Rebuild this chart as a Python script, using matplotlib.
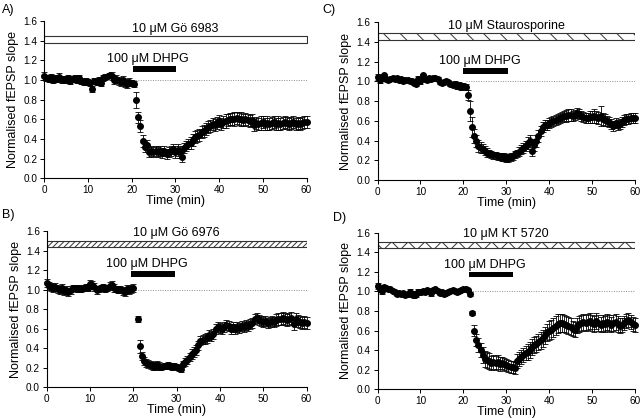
import matplotlib
matplotlib.use("Agg")
import matplotlib.pyplot as plt
import numpy as np

plt.rcParams.update({
    "font.family": ["Liberation Sans", "DejaVu Sans"],
    "font.size": 8,
    "axes.linewidth": 0.8,
    "xtick.labelsize": 7.2,
    "ytick.labelsize": 7.2,
    "xtick.major.size": 3,
    "ytick.major.size": 3,
    "xtick.major.width": 0.7,
    "ytick.major.width": 0.7,
    "xtick.major.pad": 2,
    "ytick.major.pad": 2,
    "hatch.linewidth": 0.7,
})

# -----------------------------
# Data (one sample every 30 s)
# -----------------------------
time = np.arange(0, 60.5, 0.5)
nan = np.nan

slope_A = [
    1.04, 1.02, 1.01, 1.03, 1.00, 1.02, 1.01, 1.03, 1.00, 1.01,
    1.00, 1.02, 0.99, 1.01, 1.02, 1.00, 1.02, 0.99, 0.98, 0.99,
    0.98, 0.97, 0.91, 0.99, 0.98, 1.00, 0.97, 1.02, 1.03, 1.04,
    1.05, 1.04, 1.00, 1.01, 0.99, 0.98, 1.00, 0.97, 0.96, 0.98,
    0.97, 0.96, 0.80, 0.62, 0.53, 0.38, 0.32, 0.34, 0.27, 0.28,
    0.27, 0.28, 0.27, 0.28, 0.26, 0.28, 0.25, 0.27, 0.28, 0.30,
    0.27, 0.29, 0.27, 0.22, 0.31, 0.33, 0.35, 0.36, 0.39, 0.42,
    0.43, 0.44, 0.47, 0.48, 0.50, 0.52, 0.53, 0.55, 0.54, 0.56,
    0.58, 0.55, 0.57, 0.58, 0.59, 0.60, 0.60, 0.60, 0.61, 0.60,
    0.60, 0.59, 0.60, 0.59, 0.58, 0.59, 0.54, 0.56, 0.55, 0.56,
    0.57, 0.55, 0.56, 0.55, 0.56, 0.57, 0.55, 0.56, 0.55, 0.56,
    0.57, 0.56, 0.55, 0.56, 0.57, 0.55, 0.56, 0.55, 0.56, 0.57,
    0.57,
]
sem_A = [
    0.04, 0.03, 0.03, 0.03, 0.03, 0.03, 0.03, 0.04, 0.03, 0.03,
    0.03, 0.03, 0.03, 0.03, 0.03, 0.03, 0.03, 0.03, 0.03, 0.03,
    0.03, 0.03, 0.03, 0.03, 0.03, 0.03, 0.03, 0.03, 0.03, 0.02,
    0.02, 0.04, 0.04, 0.04, 0.04, 0.04, 0.04, 0.04, 0.04, 0.04,
    0.03, 0.03, 0.08, 0.06, 0.06, 0.06, 0.05, 0.05, 0.05, 0.05,
    0.05, 0.05, 0.05, 0.05, 0.05, 0.05, 0.05, 0.05, 0.05, 0.05,
    0.06, 0.06, 0.06, 0.05, 0.05, 0.05, 0.05, 0.06, 0.06, 0.06,
    0.06, 0.06, 0.06, 0.06, 0.06, 0.06, 0.06, 0.06, 0.06, 0.06,
    0.06, 0.06, 0.06, 0.07, 0.06, 0.06, 0.06, 0.07, 0.06, 0.06,
    0.07, 0.06, 0.06, 0.06, 0.06, 0.06, 0.06, 0.06, 0.06, 0.07,
    0.06, 0.06, 0.07, 0.06, 0.06, 0.06, 0.06, 0.07, 0.06, 0.06,
    0.06, 0.06, 0.06, 0.06, 0.06, 0.06, 0.06, 0.06, 0.06, 0.06,
    0.06,
]

slope_B = [
    1.07, 1.04, 1.03, 1.02, 1.03, 1.01, 1.00, 1.02, 0.99, 1.00,
    0.98, 1.00, 1.02, 1.02, 1.01, 1.02, 1.01, 1.02, 1.03, 1.02,
    1.06, 1.05, 1.03, 1.00, 1.01, 1.02, 1.03, 1.01, 1.02, 1.04,
    1.05, 1.02, 1.01, 1.00, 1.01, 0.99, 0.98, 1.01, 1.00, 1.01,
    1.02, nan, 0.70, 0.42, 0.32, 0.27, 0.25, 0.24, 0.23, 0.22,
    0.22, 0.23, 0.22, 0.21, 0.22, 0.22, 0.23, 0.22, 0.21, 0.22,
    0.21, 0.20, 0.19, 0.24, 0.26, 0.28, 0.31, 0.34, 0.36, 0.38,
    0.43, 0.48, 0.49, 0.50, 0.51, 0.54, 0.53, 0.55, 0.60, 0.62,
    0.61, 0.60, 0.62, 0.64, 0.63, 0.60, 0.62, 0.60, 0.62, 0.61,
    0.63, 0.62, 0.64, 0.63, 0.65, 0.66, 0.70, 0.71, 0.69, 0.68,
    0.67, 0.68, 0.66, 0.67, 0.68, 0.67, 0.69, 0.70, 0.70, 0.71,
    0.70, 0.69, 0.70, 0.71, 0.65, 0.70, 0.68, 0.67, 0.66, 0.67,
    0.66,
]
sem_B = [
    0.04, 0.04, 0.04, 0.04, 0.04, 0.04, 0.04, 0.04, 0.04, 0.04,
    0.04, 0.04, 0.03, 0.03, 0.03, 0.03, 0.03, 0.03, 0.03, 0.03,
    0.04, 0.04, 0.04, 0.04, 0.03, 0.03, 0.03, 0.03, 0.03, 0.04,
    0.04, 0.04, 0.03, 0.03, 0.03, 0.04, 0.04, 0.04, 0.04, 0.04,
    0.04, nan, 0.03, 0.07, 0.04, 0.04, 0.04, 0.04, 0.04, 0.04,
    0.04, 0.04, 0.04, 0.03, 0.03, 0.03, 0.03, 0.03, 0.03, 0.03,
    0.03, 0.03, 0.03, 0.03, 0.04, 0.04, 0.04, 0.05, 0.05, 0.05,
    0.05, 0.05, 0.05, 0.05, 0.05, 0.05, 0.05, 0.05, 0.05, 0.05,
    0.05, 0.05, 0.05, 0.05, 0.05, 0.05, 0.05, 0.05, 0.05, 0.05,
    0.05, 0.05, 0.05, 0.05, 0.05, 0.05, 0.05, 0.05, 0.05, 0.05,
    0.05, 0.05, 0.05, 0.05, 0.05, 0.05, 0.06, 0.06, 0.06, 0.06,
    0.06, 0.06, 0.06, 0.06, 0.06, 0.06, 0.06, 0.06, 0.06, 0.06,
    0.06,
]

slope_C = [
    1.04, 1.01, 1.03, 1.06, 1.02, 1.01, 1.02, 1.03, 1.02, 1.03,
    1.01, 1.02, 1.00, 1.01, 1.01, 1.00, 1.00, 0.98, 0.97, 1.02,
    1.00, 1.06, 1.02, 1.01, 1.03, 1.02, 1.03, 1.03, 1.02, 0.99,
    0.98, 0.99, 1.00, 0.99, 0.97, 0.96, 0.97, 0.95, 0.96, 0.94,
    0.95, 0.94, 0.86, 0.70, 0.54, 0.45, 0.40, 0.35, 0.33, 0.32,
    0.30, 0.28, 0.27, 0.26, 0.25, 0.25, 0.24, 0.24, 0.23, 0.23,
    0.22, 0.22, 0.23, 0.24, 0.26, 0.27, 0.29, 0.31, 0.33, 0.35,
    0.38, 0.40, 0.30, 0.36, 0.40, 0.45, 0.50, 0.54, 0.56, 0.56,
    0.58, 0.59, 0.60, 0.61, 0.62, 0.63, 0.64, 0.65, 0.65, 0.66,
    0.66, 0.65, 0.66, 0.68, 0.67, 0.65, 0.64, 0.63, 0.63, 0.64,
    0.64, 0.65, 0.64, 0.63, 0.65, 0.62, 0.61, 0.60, 0.59, 0.57,
    0.55, 0.58, 0.56, 0.57, 0.59, 0.61, 0.62, 0.62, 0.63, 0.63,
    0.63,
]
sem_C = [
    0.03, 0.03, 0.03, 0.02, 0.02, 0.02, 0.02, 0.02, 0.02, 0.02,
    0.02, 0.02, 0.02, 0.02, 0.02, 0.02, 0.02, 0.02, 0.02, 0.03,
    0.03, 0.02, 0.02, 0.02, 0.02, 0.02, 0.02, 0.02, 0.02, 0.02,
    0.02, 0.02, 0.02, 0.02, 0.02, 0.02, 0.03, 0.03, 0.03, 0.03,
    0.03, 0.03, 0.05, 0.10, 0.10, 0.07, 0.06, 0.06, 0.06, 0.05,
    0.05, 0.05, 0.04, 0.04, 0.04, 0.04, 0.04, 0.04, 0.04, 0.04,
    0.04, 0.04, 0.04, 0.04, 0.04, 0.04, 0.05, 0.05, 0.05, 0.05,
    0.06, 0.06, 0.06, 0.06, 0.06, 0.06, 0.05, 0.05, 0.05, 0.05,
    0.05, 0.05, 0.05, 0.05, 0.05, 0.05, 0.05, 0.05, 0.06, 0.06,
    0.06, 0.05, 0.05, 0.05, 0.05, 0.05, 0.05, 0.05, 0.05, 0.06,
    0.06, 0.07, 0.06, 0.06, 0.10, 0.06, 0.06, 0.05, 0.05, 0.05,
    0.05, 0.05, 0.05, 0.05, 0.05, 0.05, 0.05, 0.05, 0.05, 0.05,
    0.05,
]

slope_D = [
    1.06, 1.03, 1.00, 1.05, 1.04, 1.03, 1.02, 1.00, 0.99, 0.97,
    0.98, 0.97, 0.98, 0.96, 0.97, 0.99, 0.97, 0.96, 0.97, 0.99,
    0.99, 1.00, 0.99, 1.01, 1.00, 0.98, 1.01, 1.02, 1.00, 0.98,
    0.99, 0.97, 0.98, 0.99, 1.00, 1.01, 1.00, 0.99, 1.00, 1.01,
    1.03, 1.02, 1.01, 0.97, 0.78, 0.60, 0.50, 0.45, 0.40, 0.35,
    0.31, 0.30, 0.29, 0.27, 0.28, 0.27, 0.28, 0.26, 0.27, 0.26,
    0.25, 0.24, 0.23, 0.23, 0.22, 0.29, 0.31, 0.33, 0.35, 0.37,
    0.38, 0.40, 0.43, 0.45, 0.46, 0.48, 0.50, 0.52, 0.55, 0.58,
    0.60, 0.61, 0.63, 0.65, 0.67, 0.68, 0.68, 0.67, 0.66, 0.65,
    0.64, 0.62, 0.61, 0.65, 0.67, 0.68, 0.69, 0.68, 0.69, 0.70,
    0.68, 0.67, 0.70, 0.68, 0.66, 0.68, 0.67, 0.69, 0.68, 0.66,
    0.68, 0.69, 0.67, 0.65, 0.66, 0.68, 0.70, 0.71, 0.69, 0.67,
    0.66,
]
sem_D = [
    0.03, 0.03, 0.03, 0.02, 0.02, 0.02, 0.02, 0.02, 0.02, 0.02,
    0.02, 0.02, 0.02, 0.02, 0.02, 0.03, 0.03, 0.03, 0.03, 0.03,
    0.03, 0.02, 0.02, 0.02, 0.02, 0.03, 0.03, 0.02, 0.02, 0.02,
    0.02, 0.02, 0.02, 0.02, 0.02, 0.02, 0.02, 0.02, 0.02, 0.02,
    0.02, 0.02, 0.02, 0.02, 0.02, 0.06, 0.06, 0.07, 0.07, 0.08,
    0.08, 0.08, 0.08, 0.07, 0.07, 0.07, 0.07, 0.07, 0.06, 0.06,
    0.06, 0.06, 0.06, 0.06, 0.06, 0.07, 0.07, 0.07, 0.07, 0.07,
    0.08, 0.08, 0.08, 0.08, 0.08, 0.08, 0.09, 0.09, 0.09, 0.09,
    0.10, 0.10, 0.10, 0.10, 0.10, 0.09, 0.09, 0.09, 0.09, 0.09,
    0.09, 0.08, 0.08, 0.08, 0.08, 0.08, 0.08, 0.08, 0.08, 0.08,
    0.08, 0.08, 0.08, 0.08, 0.08, 0.08, 0.08, 0.08, 0.08, 0.08,
    0.08, 0.08, 0.08, 0.08, 0.07, 0.07, 0.07, 0.07, 0.07, 0.07,
    0.07,
]

drug_names = [u"10 \u03bcM G\u00f6 6983", u"10 \u03bcM G\u00f6 6976",
              u"10 \u03bcM Staurosporine", u"10 \u03bcM KT 5720"]
dhpg_start = [20.2, 19.4, 20.0, 21.3]
dhpg_end = [30.1, 29.6, 30.5, 31.6]

# -----------------------------
# Layout / styling per panel
# -----------------------------
panels = [
    # label, data, sem, axes rect, hatch, drug bar (y0, y1), dhpg bar (y0, y1), dotted start
    ("A)", slope_A, sem_A, [0.069, 0.573, 0.410, 0.377], None, (1.377, 1.444), (1.08, 1.14), 20.2),
    ("B)", slope_B, sem_B, [0.073, 0.073, 0.406, 0.374], "//////", (1.436, 1.50), (1.135, 1.196), 20.0),
    ("C)", slope_C, sem_C, [0.590, 0.569, 0.402, 0.378], "\\\\", (1.42, 1.488), (1.076, 1.14), 20.5),
    ("D)", slope_D, sem_D, [0.590, 0.069, 0.402, 0.374], "xx", (1.44, 1.51), (1.145, 1.20), 21.5),
]
label_pos = {"A)": (0.003, 0.975), "B)": (0.003, 0.485), "C)": (0.503, 0.975), "D)": (0.520, 0.478)}

fig = plt.figure(figsize=(6.4, 4.18), dpi=100)

for i, (lab, y, e, rect, hatch, dbar, hbar, dot0) in enumerate(panels):
    ax = fig.add_axes(rect)
    ax.spines["top"].set_visible(False)
    ax.spines["right"].set_visible(False)

    # dotted baseline reference
    ax.plot([dot0, 60], [1.0, 1.0], linestyle=(0, (1, 1.5)), color="0.55", lw=0.7, zorder=1)

    ax.errorbar(time, y, yerr=e, fmt="o", color="black", ms=4.0, mec="black",
                elinewidth=0.6, capsize=2.0, capthick=0.6, clip_on=False, zorder=3)

    # drug application bar
    ax.fill_between([0, 60], dbar[0], dbar[1], facecolor="white", edgecolor="0.2",
                    hatch=hatch, lw=0.8, zorder=2)
    ax.text(30, dbar[1] + 0.015, drug_names[i], ha="center", va="bottom", fontsize=9)

    # DHPG bar
    ax.fill_between([dhpg_start[i], dhpg_end[i]], hbar[0], hbar[1], color="black", lw=0, zorder=2)
    ax.text((dhpg_start[i] + dhpg_end[i]) / 2 - 1.5, hbar[1] + 0.01, u"100 \u03bcM DHPG",
            ha="center", va="bottom", fontsize=9)

    ax.set_xlim(0, 60)
    ax.set_ylim(0, 1.6)
    ax.set_xticks(np.arange(0, 61, 10))
    ax.set_yticks(np.arange(0, 1.61, 0.2))
    ax.yaxis.set_major_formatter(plt.FormatStrFormatter("%.1f"))
    ax.set_xlabel("Time (min)", fontsize=9, labelpad=0)
    ax.set_ylabel("Normalised fEPSP slope", fontsize=9, labelpad=3)

    fig.text(label_pos[lab][0], label_pos[lab][1], lab, fontsize=9, ha="left", va="center")

plt.savefig("out.png", dpi=100)
